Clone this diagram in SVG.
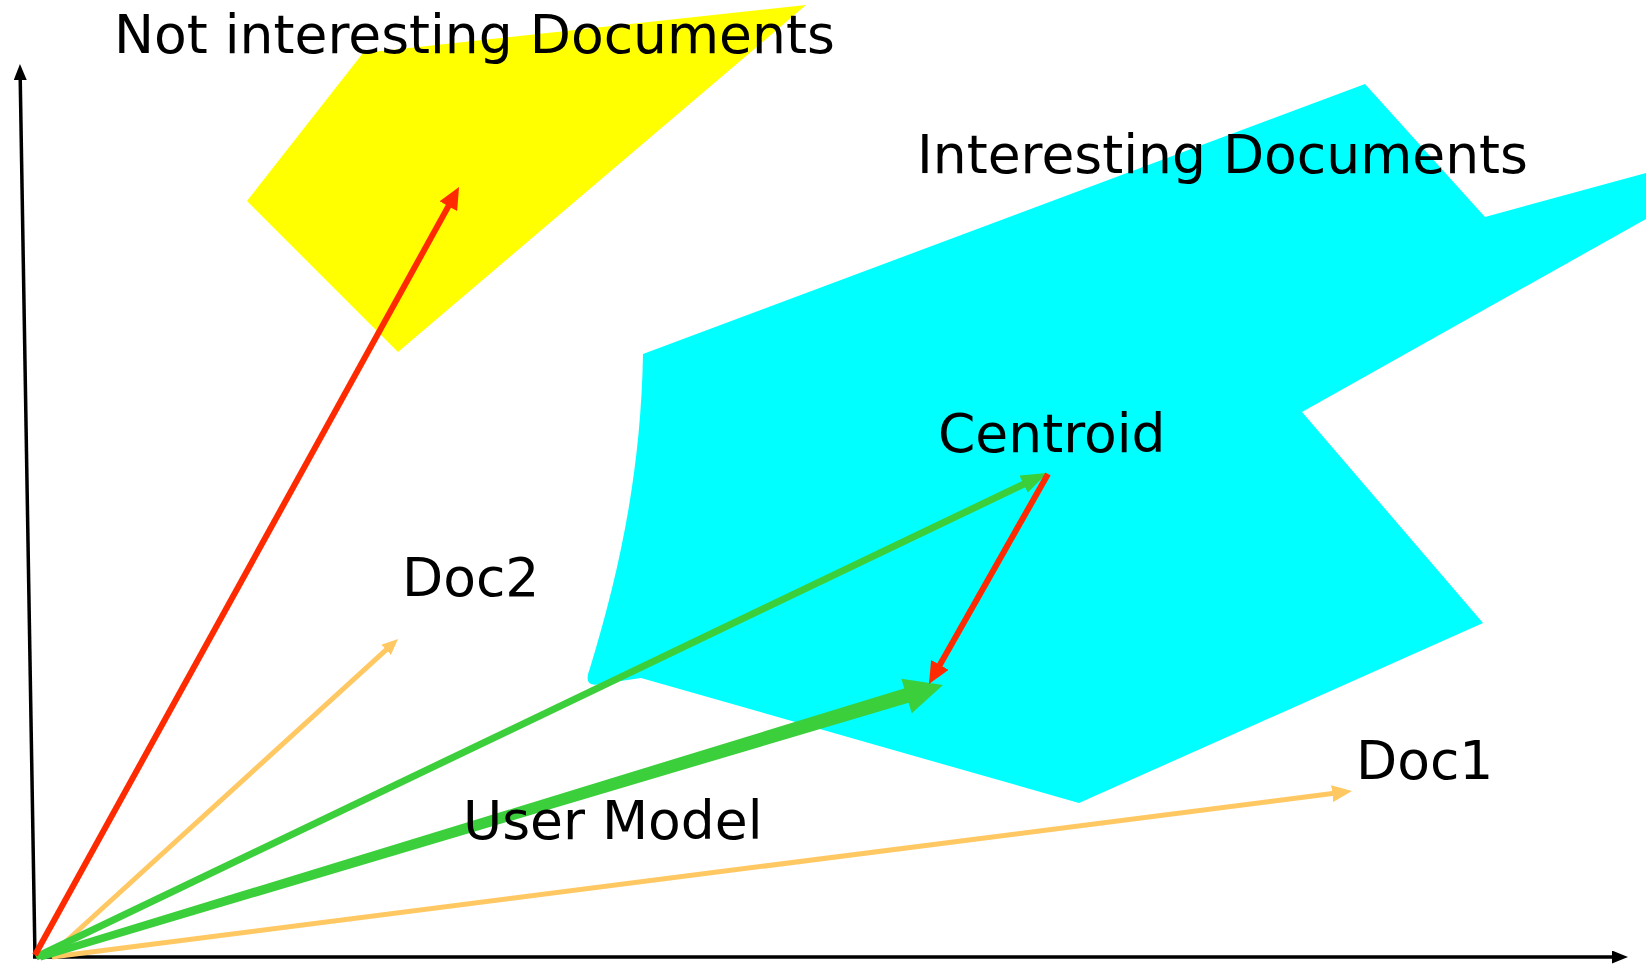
<svg xmlns="http://www.w3.org/2000/svg" width="1646" height="968" viewBox="0 0 1646 968">
<style>
.lbl{font-family:"DejaVu Sans","Verdana",sans-serif;font-size:53.5px;fill:#000}
.ax{stroke:#000;stroke-width:3.5;fill:none}
.red{stroke:#ff2a00;stroke-width:6;fill:none}
.org{stroke:#ffc862;stroke-width:5;fill:none}
.grn{stroke:#3ccf3c;stroke-width:7;fill:none}
</style>
<defs>
<marker id="mBlack" viewBox="0 0 16 13" refX="8" refY="6.5" markerWidth="16" markerHeight="13" markerUnits="userSpaceOnUse" orient="auto"><path d="M0,0 L16,6.5 L0,13 z" fill="#000"/></marker>
<marker id="mRed" viewBox="0 0 22 20" refX="11" refY="10" markerWidth="22" markerHeight="20" markerUnits="userSpaceOnUse" orient="auto"><path d="M0,0 L22,10 L0,20 z" fill="#ff2a00"/></marker>
<marker id="mOrgS" viewBox="0 0 16 14" refX="8" refY="7" markerWidth="16" markerHeight="14" markerUnits="userSpaceOnUse" orient="auto"><path d="M0,0 L16,7 L0,14 z" fill="#ffc862"/></marker>
<marker id="mOrgL" viewBox="0 0 20 17" refX="10" refY="8.5" markerWidth="20" markerHeight="17" markerUnits="userSpaceOnUse" orient="auto"><path d="M0,0 L20,8.5 L0,17 z" fill="#ffc862"/></marker>
<marker id="mGrn" viewBox="0 0 26 19" refX="13" refY="9.5" markerWidth="26" markerHeight="19" markerUnits="userSpaceOnUse" orient="auto"><path d="M0,0 L26,9.5 L0,19 z" fill="#3ccf3c"/></marker>
</defs>
<rect width="1646" height="968" fill="#fff"/>
<g id="not-interesting-region">
<polygon points="363,53 806,5 398,352 247,201" fill="#ffff00"/>
</g>
<g id="interesting-region">
<path d="M643,354 C641,470 620,570 590,668 Q582,688 600,684 L641,678 L1079,803 L1483,623 L1302,412 L1646,219 L1646,173 L1485,217 L1365,84 Z" fill="#00ffff"/>
</g>
<g id="connectors">
<line id="y-axis" class="ax" x1="35" y1="958" x2="20.1" y2="72" marker-end="url(#mBlack)"/>
<line id="x-axis" class="ax" x1="33" y1="957" x2="1620" y2="957" marker-end="url(#mBlack)"/>
<line id="doc2-vec" class="org" x1="50" y1="956" x2="392.1" y2="644.4" marker-end="url(#mOrgS)"/>
<line id="doc1-vec" class="org" x1="52" y1="957" x2="1342.1" y2="792.3" marker-end="url(#mOrgL)"/>
<line id="centroid-vec" class="grn" x1="36" y1="957" x2="1035.3" y2="478.6" marker-end="url(#mGrn)"/>
<g id="user-model-vec" fill="#3ccf3c">
<polygon points="39,953.6 922.8,682.8 927.2,697.2 41,960.4"/>
<polygon points="943,685 911.8,713.2 901.4,678.7"/>
</g>
<line id="not-interesting-vec" class="red" x1="35" y1="955" x2="453.7" y2="196.6" marker-end="url(#mRed)"/>
<line id="centroid-to-model" class="red" stroke-width="5" x1="1048" y1="474" x2="934.4" y2="674.4" marker-end="url(#mRed)"/>
</g>
<g id="labels">
<text id="lbl-not-interesting" class="lbl" x="114" y="53">Not interesting Documents</text>
<text id="lbl-interesting" class="lbl" x="917" y="173">Interesting Documents</text>
<text id="lbl-centroid" class="lbl" x="938" y="452">Centroid</text>
<text id="lbl-doc2" class="lbl" x="402" y="596">Doc2</text>
<text id="lbl-user-model" class="lbl" x="463" y="839">User Model</text>
<text id="lbl-doc1" class="lbl" x="1356" y="779">Doc1</text>
</g>
</svg>
